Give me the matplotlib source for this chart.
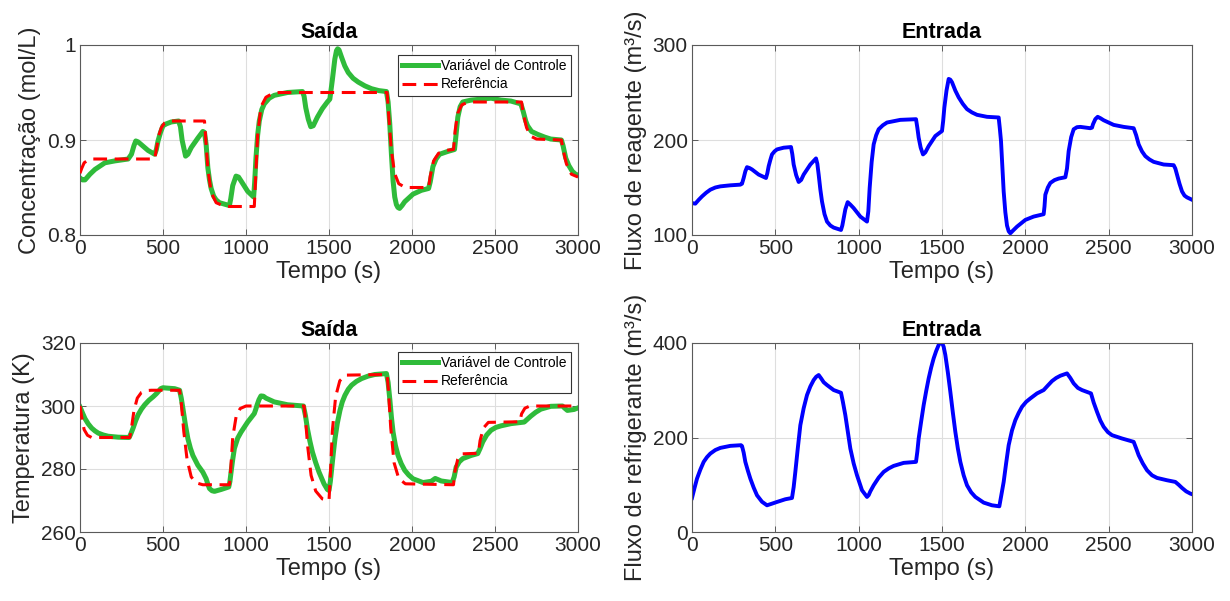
import matplotlib
matplotlib.use("Agg")
import matplotlib.pyplot as plt

plt.rcParams['font.family'] = ['Liberation Sans', 'DejaVu Sans']

# ---------------- data ----------------
# Concentration, controlled variable
t_conc = [0, 15, 30, 60, 90, 150, 210, 290, 310, 325, 336, 350, 370, 410, 450, 460, 470, 485, 500,
          520, 550, 594, 605, 615, 636, 650, 670, 710, 740, 750, 760, 770, 780, 790, 805, 820, 840,
          860, 900, 908, 920, 940, 955, 970, 1010, 1046, 1052, 1060, 1070, 1080, 1095, 1110, 1140,
          1170, 1250, 1340, 1350, 1360, 1375, 1390, 1405, 1430, 1460, 1490, 1505, 1520, 1535, 1545,
          1552, 1560, 1576, 1595, 1616, 1645, 1676, 1716, 1756, 1800, 1846, 1856, 1866, 1876, 1886,
          1896, 1906, 1915, 1925, 1940, 1956, 2006, 2056, 2100, 2110, 2126, 2145, 2166, 2216, 2256,
          2265, 2276, 2290, 2306, 2330, 2356, 2416, 2476, 2536, 2596, 2656, 2670, 2685, 2696, 2720,
          2756, 2800, 2836, 2900, 2910, 2926, 2945, 2966, 2985, 3000]
conc_ctrl = [0.860, 0.858, 0.858, 0.864, 0.869, 0.876, 0.878, 0.880, 0.885, 0.894, 0.899, 0.898,
             0.895, 0.889, 0.885, 0.890, 0.899, 0.908, 0.915, 0.917, 0.919, 0.920, 0.914, 0.900,
             0.883, 0.885, 0.892, 0.902, 0.909, 0.908, 0.895, 0.871, 0.858, 0.849, 0.841, 0.837,
             0.834, 0.833, 0.831, 0.838, 0.852, 0.862, 0.861, 0.857, 0.846, 0.840, 0.855, 0.881,
             0.905, 0.920, 0.932, 0.938, 0.944, 0.947, 0.950, 0.951, 0.946, 0.934, 0.922, 0.914,
             0.915, 0.924, 0.933, 0.940, 0.943, 0.963, 0.985, 0.994, 0.996, 0.995, 0.987, 0.978,
             0.971, 0.965, 0.961, 0.957, 0.954, 0.952, 0.951, 0.940, 0.917, 0.885, 0.857, 0.840,
             0.832, 0.829, 0.828, 0.831, 0.835, 0.843, 0.847, 0.849, 0.856, 0.872, 0.880, 0.885,
             0.888, 0.890, 0.905, 0.924, 0.935, 0.940, 0.941, 0.942, 0.943, 0.944, 0.942, 0.941,
             0.938, 0.930, 0.920, 0.915, 0.909, 0.906, 0.903, 0.901, 0.900, 0.894, 0.881, 0.873,
             0.867, 0.864, 0.863]
# Concentration, reference
t_conc_ref = [0, 10, 25, 50, 80, 450, 460, 475, 490, 510, 540, 750, 758, 770, 790, 820, 860, 900,
              1050, 1058, 1070, 1090, 1120, 1160, 1200, 1850, 1860, 1875, 1895, 1920, 1960, 2100,
              2110, 2130, 2160, 2200, 2250, 2260, 2275, 2300, 2340, 2660, 2670, 2690, 2715, 2750,
              2900, 2910, 2930, 2960, 3000]
conc_ref = [0.865, 0.870, 0.876, 0.879, 0.880, 0.880, 0.890, 0.905, 0.913, 0.918, 0.920, 0.920,
            0.900, 0.870, 0.845, 0.834, 0.831, 0.830, 0.830, 0.860, 0.905, 0.935, 0.945, 0.949,
            0.950, 0.950, 0.925, 0.890, 0.865, 0.854, 0.850, 0.850, 0.862, 0.878, 0.886, 0.889,
            0.890, 0.910, 0.928, 0.937, 0.940, 0.940, 0.928, 0.913, 0.904, 0.901, 0.900, 0.890,
            0.875, 0.864, 0.861]

# Reagent flow (input)
t_reag = [0, 20, 40, 60, 85, 110, 140, 170, 230, 290, 300, 310, 320, 330, 345, 360, 400, 444, 452,
          460, 470, 480, 495, 510, 550, 594, 602, 610, 625, 640, 655, 670, 710, 744, 752, 760, 770,
          780, 795, 810, 830, 850, 894, 902, 910, 920, 934, 950, 970, 1010, 1050, 1058, 1066, 1078,
          1090, 1105, 1120, 1145, 1170, 1250, 1344, 1352, 1360, 1372, 1386, 1400, 1420, 1460,
          1500, 1507, 1514, 1527, 1540, 1550, 1560, 1580, 1600, 1625, 1650, 1680, 1710, 1770,
          1840, 1847, 1854, 1862, 1870, 1880, 1890, 1900, 1910, 1925, 1950, 2000, 2050, 2110,
          2115, 2120, 2135, 2150, 2175, 2200, 2240, 2250, 2260, 2275, 2290, 2310, 2330, 2390,
          2400, 2406, 2420, 2434, 2450, 2470, 2530, 2590, 2650, 2665, 2680, 2700, 2720, 2745,
          2770, 2830, 2890, 2900, 2910, 2925, 2940, 2955, 2970, 3000]
reag_flow = [133.6, 133.0, 137.0, 140.6, 144.5, 147.7, 150.0, 151.2, 152.3, 153.0, 154.0, 160.0,
             167.0, 171.4, 170.5, 169.0, 163.6, 160.0, 165.0, 172.4, 179.0, 184.8, 188.0, 190.1,
             191.9, 192.6, 185.0, 174.2, 163.0, 155.8, 158.0, 163.6, 174.2, 180.6, 175.0, 163.6,
             148.0, 135.3, 122.0, 114.1, 110.0, 107.8, 105.3, 110.0, 117.7, 127.0, 134.6, 132.0,
             128.3, 119.4, 114.1, 125.0, 149.5, 177.0, 195.4, 205.0, 211.3, 215.5, 218.4, 221.2,
             221.9, 213.0, 202.5, 192.0, 184.8, 187.0, 193.6, 204.2, 209.5, 220.0, 234.0, 252.0,
             264.3, 263.5, 260.8, 252.0, 244.9, 238.0, 232.5, 229.0, 226.5, 224.4, 223.7, 212.0,
             198.9, 172.0, 145.9, 124.0, 110.0, 104.0, 101.8, 104.5, 108.8, 115.9, 119.4, 121.9,
             130.0, 142.4, 150.0, 154.8, 157.8, 159.4, 160.8, 170.0, 188.3, 203.0, 211.3, 213.5,
             213.8, 212.4, 213.0, 216.6, 222.0, 224.4, 223.0, 220.8, 215.9, 213.8, 212.4, 205.0,
             195.4, 188.0, 183.0, 179.5, 177.0, 174.2, 173.5, 170.0, 163.6, 154.0, 145.9, 141.5,
             139.6, 137.1]

# Temperature, controlled variable
t_temp = [0, 15, 30, 50, 70, 90, 110, 140, 170, 230, 296, 305, 320, 335, 350, 370, 390, 415, 440,
          460, 475, 486, 500, 520, 570, 600, 610, 620, 635, 650, 665, 680, 710, 740, 760, 770, 780,
          795, 810, 850, 896, 903, 910, 920, 930, 950, 970, 1010, 1050, 1058, 1066, 1078, 1090,
          1105, 1120, 1170, 1250, 1346, 1358, 1370, 1385, 1400, 1420, 1440, 1470, 1490, 1500,
          1508, 1516, 1526, 1536, 1550, 1566, 1580, 1596, 1616, 1636, 1665, 1696, 1736, 1776,
          1846, 1856, 1866, 1876, 1886, 1900, 1916, 1935, 1956, 1980, 2006, 2066, 2116, 2140,
          2176, 2242, 2254, 2266, 2285, 2306, 2356, 2396, 2410, 2426, 2450, 2476, 2505, 2536,
          2596, 2676, 2716, 2745, 2776, 2836, 2906, 2920, 2936, 2976, 3000]
temp_ctrl = [299.7, 297.8, 296.0, 294.3, 293.0, 292.1, 291.4, 290.8, 290.4, 290.1, 290.0, 291.0,
             293.0, 295.3, 297.2, 299.0, 300.4, 301.8, 302.9, 303.9, 304.8, 305.5, 305.8, 305.7,
             305.5, 305.0, 302.5, 299.2, 294.0, 289.6, 286.6, 284.3, 281.2, 279.0, 276.9, 275.2,
             273.8, 273.1, 272.9, 273.5, 274.3, 276.0, 279.0, 283.0, 286.5, 289.8, 291.7, 294.9,
             297.6, 298.8, 300.2, 302.0, 303.2, 303.1, 302.5, 301.3, 300.4, 300.0, 297.0, 292.8,
             288.8, 285.4, 282.0, 279.0, 275.3, 273.5, 273.2, 276.0, 280.0, 285.0, 289.6, 294.5,
             298.6, 301.3, 303.4, 305.3, 306.6, 307.8, 308.7, 309.5, 310.0, 310.3, 307.5, 302.3,
             296.5, 291.7, 287.5, 284.3, 281.7, 279.6, 278.1, 276.9, 275.7, 276.1, 277.0, 276.2,
             275.7, 277.5, 280.6, 282.3, 283.3, 284.3, 284.9, 286.5, 288.6, 290.8, 292.3, 293.2,
             293.7, 294.4, 294.9, 296.8, 298.0, 299.0, 299.9, 300.0, 299.3, 298.6, 298.9, 299.4]
# Temperature, reference
t_temp_ref = [0, 10, 25, 45, 70, 300, 310, 325, 345, 370, 400, 430, 600, 610, 625, 645, 670, 700,
              740, 900, 908, 920, 940, 965, 1000, 1350, 1358, 1372, 1392, 1420, 1460, 1500, 1508,
              1520, 1540, 1565, 1600, 1850, 1858, 1872, 1892, 1920, 1960, 2250, 2258, 2275, 2300,
              2400, 2410, 2430, 2460, 2650, 2660, 2680, 2710, 3000]
temp_ref = [300.0, 296.5, 292.5, 290.7, 290.0, 290.0, 293.0, 298.5, 302.5, 304.3, 304.9, 305.0,
            305.0, 301.0, 292.0, 283.0, 277.5, 275.6, 275.0, 275.0, 280.0, 290.0, 296.5, 299.2,
            300.0, 300.0, 296.0, 287.0, 278.0, 273.0, 270.5, 270.0, 278.0, 292.0, 303.0, 308.0,
            309.8, 310.0, 305.0, 293.0, 282.0, 277.0, 275.3, 275.0, 279.0, 283.0, 284.8, 285.0,
            289.0, 293.0, 294.8, 295.0, 297.5, 299.3, 300.0, 300.0]

# Coolant flow (input)
t_cool = [0, 15, 30, 50, 70, 90, 110, 140, 170, 230, 294, 300, 310, 320, 335, 350, 370, 390, 420,
          450, 480, 510, 560, 600, 610, 620, 635, 650, 670, 690, 710, 730, 745, 760, 775, 790,
          810, 850, 894, 905, 920, 935, 950, 970, 990, 1020, 1050, 1060, 1070, 1090, 1120, 1150,
          1180, 1210, 1270, 1344, 1352, 1360, 1375, 1390, 1405, 1420, 1435, 1450, 1465, 1480,
          1494, 1500, 1510, 1520, 1535, 1550, 1565, 1580, 1595, 1610, 1630, 1650, 1675, 1700,
          1750, 1800, 1844, 1856, 1870, 1885, 1900, 1920, 1940, 1960, 1980, 2005, 2030, 2070,
          2110, 2135, 2160, 2185, 2210, 2250, 2270, 2290, 2315, 2340, 2394, 2410, 2430, 2450,
          2470, 2495, 2520, 2580, 2650, 2665, 2680, 2705, 2730, 2760, 2790, 2850, 2900, 2920,
          2940, 2965, 2990, 3000]
cool_flow = [72.0, 93.0, 113.0, 132.0, 148.4, 158.5, 166.0, 173.5, 178.0, 182.3, 183.7, 182.0,
             168.0, 148.4, 130.0, 113.0, 94.0, 77.7, 64.0, 56.5, 60.0, 63.6, 69.3, 72.0, 95.0,
             127.2, 178.0, 226.0, 262.0, 289.8, 308.0, 321.6, 328.5, 332.2, 325.0, 317.0, 311.0,
             300.4, 294.7, 276.0, 247.3, 212.0, 176.7, 145.0, 120.1, 88.3, 74.2, 78.0, 86.0, 98.9,
             115.0, 127.2, 134.5, 139.9, 146.3, 148.4, 170.0, 197.9, 234.0, 268.6, 298.0, 325.1,
             348.0, 367.5, 383.0, 395.8, 402.8, 401.0, 392.0, 374.6, 338.0, 296.8, 253.0, 212.0,
             177.0, 148.4, 120.0, 98.9, 84.0, 74.2, 62.2, 56.5, 54.4, 78.0, 106.0, 146.0, 183.7,
             215.0, 236.7, 252.0, 265.0, 275.5, 282.7, 293.3, 300.4, 310.0, 319.4, 326.0, 330.7,
             335.7, 326.0, 314.5, 305.0, 300.4, 293.3, 274.0, 254.4, 236.0, 222.6, 211.5, 204.9,
             197.9, 190.8, 177.0, 162.5, 145.0, 130.7, 120.0, 114.5, 109.5, 106.0, 100.0, 93.3,
             86.0, 81.3, 80.0]

x_ticks = [0, 500, 1000, 1500, 2000, 2500, 3000]
conc_ticks = [0.8, 0.9, 1.0]
conc_ticklabels = ['0.8', '0.9', '1']
reag_ticks = [100, 200, 300]
temp_ticks = [260, 280, 300, 320]
cool_ticks = [0, 200, 400]

labels_legend = ['Variável de Controle', 'Referência']

# ---------------- styling ----------------
GREEN = '#2fbb3a'
TXT = '#262626'
EDGE = '#5a5a5a'

fig = plt.figure(figsize=(12.3, 6.01), dpi=100)
W, H = 1230, 601


def make_ax(x0, x1, y_top, y_bot):
    return fig.add_axes([x0 / W, 1 - y_bot / H, (x1 - x0) / W, (y_bot - y_top) / H])


ax1 = make_ax(80, 578, 45, 235)
ax2 = make_ax(692, 1192, 45, 235)
ax3 = make_ax(80, 578, 343, 532)
ax4 = make_ax(692, 1192, 343, 532)


def style(ax, yticks, ylim, ylabel, title, yticklabels=None):
    ax.set_xlim(0, 3000)
    ax.set_ylim(*ylim)
    ax.set_xticks(x_ticks)
    ax.set_yticks(yticks)
    if yticklabels is not None:
        ax.set_yticklabels(yticklabels)
    ax.tick_params(direction='in', length=4, width=0.7, colors=EDGE, labelcolor=TXT,
                   labelsize=15, top=True, right=True, pad=3)
    for s in ax.spines.values():
        s.set_color(EDGE)
        s.set_linewidth(0.8)
    ax.grid(True, color='#dedede', linewidth=0.8)
    ax.set_axisbelow(True)
    ax.set_xlabel('Tempo (s)', fontsize=17, color=TXT, labelpad=2)
    ax.set_ylabel(ylabel, fontsize=17, color=TXT, labelpad=4)
    ax.set_title(title, fontsize=15.5, fontweight='bold', color='black', pad=5)


ax1.plot(t_conc, conc_ctrl, color=GREEN, lw=3.6, solid_joinstyle='round',
         label=labels_legend[0], zorder=2)
ax1.plot(t_conc_ref, conc_ref, color='red', lw=2.2, linestyle=(0, (4.5, 2.5)),
         label=labels_legend[1], zorder=3)
style(ax1, conc_ticks, (0.8, 1.0), 'Concentração (mol/L)', 'Saída', conc_ticklabels)

ax2.plot(t_reag, reag_flow, color='blue', lw=2.8, solid_joinstyle='round')
style(ax2, reag_ticks, (100, 300), 'Fluxo de reagente (m³/s)', 'Entrada')

ax3.plot(t_temp, temp_ctrl, color=GREEN, lw=3.6, solid_joinstyle='round',
         label=labels_legend[0], zorder=2)
ax3.plot(t_temp_ref, temp_ref, color='red', lw=2.2, linestyle=(0, (4.5, 2.5)),
         label=labels_legend[1], zorder=3)
style(ax3, temp_ticks, (260, 320), 'Temperatura (K)', 'Saída')

ax4.plot(t_cool, cool_flow, color='blue', lw=2.8, solid_joinstyle='round')
style(ax4, cool_ticks, (0, 400), 'Fluxo de refrigerante (m³/s)', 'Entrada')

for ax, top in ((ax1, 0.947), (ax3, 0.952)):
    leg = ax.legend(loc='upper right', bbox_to_anchor=(0.985, top), fontsize=10,
                    frameon=True, fancybox=False, edgecolor='#333333', framealpha=1,
                    borderpad=0.3, labelspacing=0.3, handlelength=2.6, handletextpad=0.2,
                    borderaxespad=0)
    leg.get_frame().set_linewidth(0.8)

fig.savefig('out.png', dpi=100)
